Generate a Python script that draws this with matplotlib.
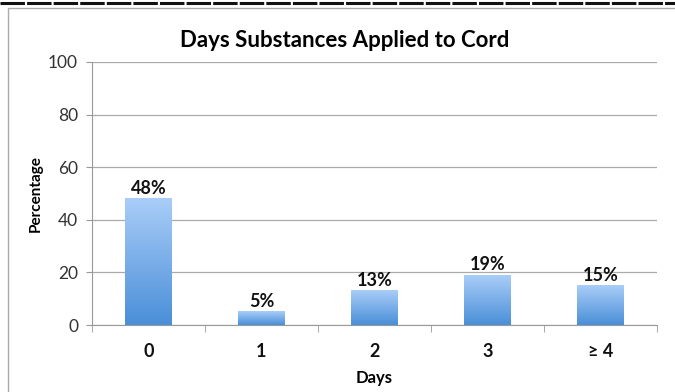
import numpy as np
import matplotlib
matplotlib.use("Agg")
import matplotlib.pyplot as plt
from matplotlib.patches import Rectangle
from matplotlib.lines import Line2D

plt.rcParams['font.family'] = ['Lato', 'DejaVu Sans']

days = ["0", "1", "2", "3", "\u2265 4"]
pct = [48, 5, 13, 19, 15]
yticks = [0, 20, 40, 60, 80, 100]

fig = plt.figure(figsize=(6.75, 3.92), dpi=100)
ax = fig.add_axes([0.1363, 0.1709, 0.837, 0.671])

x = np.arange(len(days))
bars = ax.bar(x, pct, width=0.41, color="none", zorder=3)

# vertical gradient for each bar
grad = np.linspace(0, 1, 100).reshape(-1, 1)
cmap = matplotlib.colors.LinearSegmentedColormap.from_list("g", ["#4a8fd8", "#a9cdf8"])
for b in bars:
    ax.imshow(grad, extent=[b.get_x(), b.get_x() + b.get_width(), 0, b.get_height()],
              origin="lower", cmap=cmap, aspect="auto", zorder=3)

for xi, v in zip(x, pct):
    ax.text(xi, v + 0.6, f"{v}%", ha="center", va="bottom", fontsize=13,
            fontweight="bold", color="#111111", zorder=4)

ax.set_xlim(-0.5, len(days) - 0.5)
ax.set_ylim(0, 100)
ax.set_yticks(yticks)
ax.set_yticklabels([str(t) for t in yticks], fontsize=12.5, color="#333333")
ax.set_xticks(x)
ax.set_xticklabels(days, fontsize=13, fontweight="bold", color="#111111")
ax.tick_params(axis="x", length=0, pad=13)
ax.set_xticks(np.arange(-0.5, len(days)), minor=True)
ax.tick_params(axis="x", which="minor", length=5, color="#999999")
ax.tick_params(axis="y", length=4, color="#999999", pad=6)

ax.grid(axis="y", color="#aaaaaa", linewidth=0.9, zorder=0)
ax.set_axisbelow(True)
for s in ["top", "right"]:
    ax.spines[s].set_visible(False)
ax.spines["left"].set_color("#999999")
ax.spines["bottom"].set_color("#999999")

ax.set_title("Days Substances Applied to Cord", fontsize=16, fontweight="bold",
             x=0.448, pad=11)
ax.set_ylabel("Percentage", fontsize=11, fontweight="bold", labelpad=4)
ax.set_xlabel("Days", fontsize=12, fontweight="bold", labelpad=7)

# outer frame of the screenshot
fig.add_artist(Rectangle((0.012, -0.01), 1.0, 0.99, transform=fig.transFigure,
                         fill=False, edgecolor="#aaaaaa", linewidth=1.0))
fig.add_artist(Line2D([0, 1], [0.992, 0.992], transform=fig.transFigure,
                      color="#111111", linewidth=2.2, linestyle=(0, (8, 0.7))))

fig.savefig("out.png", dpi=100)
